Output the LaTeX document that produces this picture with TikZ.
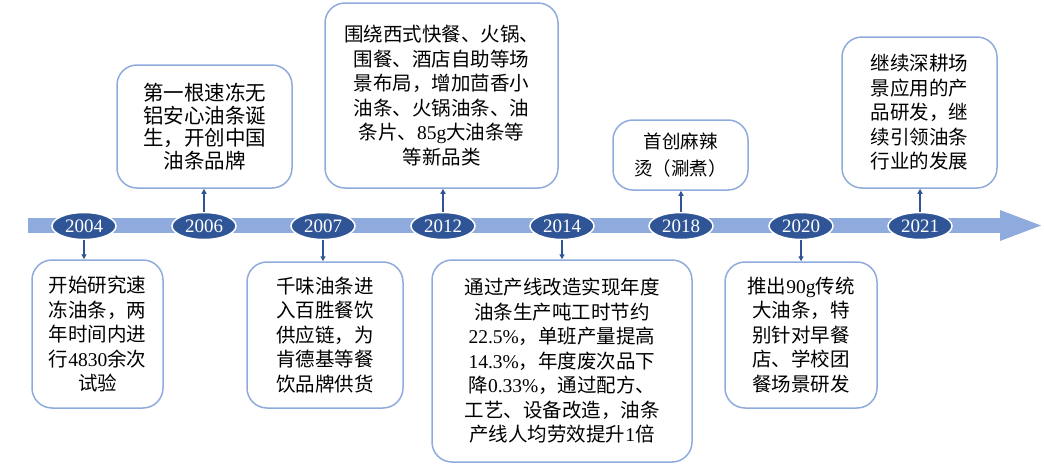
\documentclass[tikz,border=0pt]{standalone}
\usepackage{fontspec}
\setmainfont{Liberation Serif}
\newfontfamily\cjk{Noto Sans CJK SC}
\usetikzlibrary{shapes.geometric,arrows.meta,calc}
\definecolor{bardark}{HTML}{2F5597}
\definecolor{barlight}{HTML}{8FAADC}
\newcommand{\lt}[1]{{\rmfamily #1}}
\tikzset{>={Triangle[length=5pt,width=5pt]}}
\tikzset{
  yearnode/.style={ellipse, fill=bardark, draw=white, line width=1.5pt,
    minimum width=64pt, minimum height=27pt, inner sep=0pt,
    text=white, font=\fontsize{19}{19}\selectfont},
  eventbox/.style={draw=barlight, line width=1.5pt, rounded corners=20pt,
    align=center, inner sep=0pt,
    font=\cjk\fontsize{19.5}{24.5}\selectfont},
  link/.style={->, bardark, line width=1.3pt}
}
\begin{document}
\begin{tikzpicture}[x=1pt, y=-1pt]
  \useasboundingbox (0, 0) rectangle (1044, 464); %
  % timeline bar with arrow head
  \coordinate (barstart) at (28, 225.5); %
  \coordinate (barend) at (1000, 225.5); %
  \coordinate (bartip) at (1041, 225.5); %
  \fill[barlight] ($(barstart) + (0, -7.5)$) rectangle ($(barend) + (0, 7.5)$); %
  \fill[barlight] ($(barend) + (0, -15.5)$) -- (bartip) -- ($(barend) + (0, 15.5)$) -- cycle; %
  % years
  \foreach \yr/\xx in {2004/84, 2006/204, 2007/323, 2012/443, 2014/562,
                      2018/681, 2020/801, 2021/920}
    \node[yearnode] (y\yr) at (\xx, 226) {\yr}; %
  % boxes above the bar
  \node[eventbox, minimum width=175pt, minimum height=123pt,
    font=\cjk\fontsize{20.5}{22.5}\selectfont] (b2006) at (204.5, 126.5)
    {第一根速冻无\\铝安心油条诞\\生，开创中国\\油条品牌}; %
  \node[eventbox, minimum width=233pt, minimum height=185pt] (b2012) at (441.5, 95.5)
    {围绕西式快餐、火锅、\\围餐、酒店自助等场\\景布局，增加茴香小\\油条、火锅油条、油\\条片、\lt{85g}大油条等\\等新品类}; %
  \node[eventbox, minimum width=135pt, minimum height=70pt,
    font=\cjk\fontsize{18.5}{27}\selectfont] (b2018) at (680.5, 155)
    {首创麻辣\\烫（涮煮）}; %
  \node[eventbox, minimum width=155pt, minimum height=151pt] (b2021) at (919.5, 112.5)
    {继续深耕场\\景应用的产\\品研发，继\\续引领油条\\行业的发展}; %
  % boxes below the bar
  \node[eventbox, minimum width=131pt, minimum height=148pt] (b2004) at (97.5, 334)
    {开始研究速\\冻油条，两\\年时间内进\\行\lt{4830}余次\\试验}; %
  \node[eventbox, minimum width=156pt, minimum height=146pt] (b2007) at (325, 335)
    {千味油条进\\入百胜餐饮\\供应链，为\\肯德基等餐\\饮品牌供货}; %
  \node[eventbox, minimum width=260pt, minimum height=202pt] (b2014) at (562, 361)
    {通过产线改造实现年度\\油条生产吨工时节约\\\lt{22.5\%}，单班产量提高\\\lt{14.3\%}，年度废次品下\\降\lt{0.33\%}，通过配方、\\工艺、设备改造，油条\\产线人均劳效提升\lt{1}倍}; %
  \node[eventbox, minimum width=152pt, minimum height=146pt] (b2020) at (801, 335)
    {推出\lt{90g}传统\\大油条，特\\别针对早餐\\店、学校团\\餐场景研发}; %
  % connectors
  \foreach \yr in {2006, 2012, 2018, 2021}
    \draw[link] (y\yr.north) -- (y\yr.north |- b\yr.south); %
  \foreach \yr in {2004, 2007, 2014, 2020}
    \draw[link] (y\yr.south) -- (y\yr.south |- b\yr.north); %
\end{tikzpicture}
\end{document}
